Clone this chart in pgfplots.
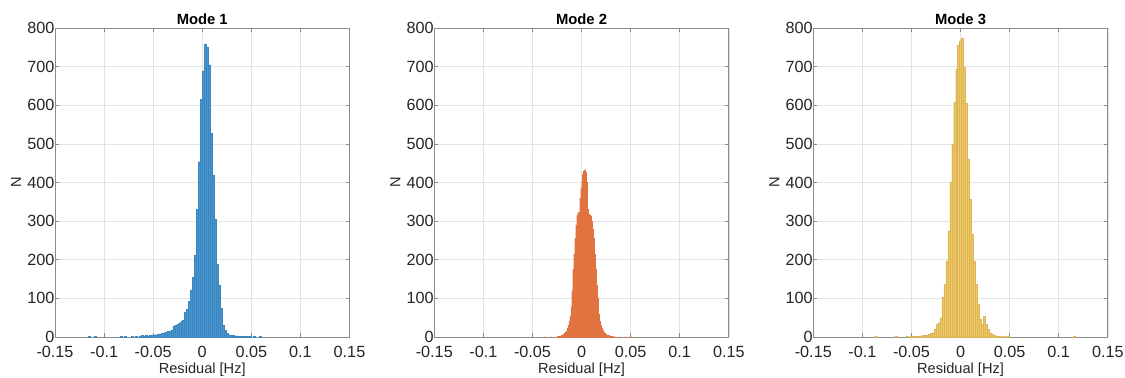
\documentclass[border=0pt]{standalone}
\usepackage{pgfplots}
\pgfplotsset{compat=1.18}
\usepackage{pgfplotstable}
\usepackage{fontspec}
\setmainfont{Liberation Sans}
\definecolor{mblue}{HTML}{4597D3}
\definecolor{morange}{HTML}{E0733F}
\definecolor{myellow}{HTML}{F2C862}
\definecolor{txt}{HTML}{262626}
\definecolor{boxc}{HTML}{8C8C8C}

\pgfplotstableread{
x y
-0.115 2
-0.109 1
-0.083 2
-0.079 1
-0.071 2
-0.067 2
-0.063 3
-0.061 4
-0.059 3
-0.057 4
-0.055 3
-0.053 5
-0.051 5
-0.049 6
-0.047 6
-0.045 7
-0.043 8
-0.041 10
-0.039 11
-0.037 13
-0.035 14
-0.033 16
-0.031 18
-0.029 29
-0.027 31
-0.025 33
-0.023 37
-0.021 40
-0.019 44
-0.017 65
-0.015 72
-0.013 92
-0.011 122
-0.009 154
-0.007 212
-0.005 331
-0.003 454
-0.001 616
0.001 689
0.003 757
0.005 751
0.007 705
0.009 528
0.011 420
0.013 306
0.015 189
0.017 135
0.019 74
0.021 31
0.023 18
0.025 10
0.027 6
0.029 5
0.031 4
0.033 3
0.035 3
0.037 2
0.039 2
0.041 3
0.043 2
0.045 1
0.047 2
0.049 1
0.053 1
0.059 1
}\modeone

\pgfplotstableread{
x y
-0.0365 1
-0.0305 1
-0.0245 2
-0.0225 3
-0.0205 4
-0.0195 5
-0.0185 7
-0.0175 9
-0.0165 12
-0.0155 16
-0.0145 22
-0.0135 30
-0.0125 42
-0.0115 55
-0.0105 78
-0.0095 120
-0.0085 175
-0.0075 215
-0.0065 255
-0.0055 290
-0.0045 315
-0.0035 322
-0.0025 323
-0.0015 360
-0.0005 385
0.0005 405
0.0015 422
0.0025 430
0.0035 433
0.0045 428
0.0055 400
0.0065 330
0.0075 318
0.0085 316
0.0095 314
0.0105 300
0.0115 280
0.0125 255
0.0135 215
0.0145 175
0.0155 135
0.0165 100
0.0175 60
0.0185 42
0.0195 30
0.0205 23
0.0215 18
0.0225 13
0.0235 10
0.0245 8
0.0255 6
0.0265 5
0.0275 4
0.0295 3
0.0315 2
0.0345 1
0.0385 1
0.0445 1
0.0505 1
}\modetwo

\pgfplotstableread{
x y
-0.086 1
-0.066 2
-0.054 1
-0.050 2
-0.048 1
-0.046 2
-0.044 2
-0.042 2
-0.040 3
-0.038 4
-0.036 4
-0.034 5
-0.032 7
-0.030 9
-0.028 11
-0.026 20
-0.024 33
-0.022 37
-0.020 50
-0.018 102
-0.016 137
-0.014 197
-0.012 275
-0.010 400
-0.008 500
-0.006 608
-0.004 694
-0.002 755
0.000 767
0.002 774
0.004 698
0.006 605
0.008 461
0.010 357
0.012 266
0.014 197
0.016 137
0.018 85
0.020 46
0.022 33
0.024 54
0.026 33
0.028 20
0.030 11
0.032 7
0.034 5
0.036 3
0.038 3
0.040 2
0.044 1
0.048 1
0.116 2
}\modethree

\pgfplotsset{
  modeaxis/.style={
    scale only axis,
    width=147.25pt, height=154.5pt,
    anchor=south west,
    xmin=-0.15, xmax=0.15, ymin=0, ymax=800,
    xtick={-0.15,-0.1,-0.05,0,0.05,0.1,0.15},
    ytick={0,100,200,300,400,500,600,700,800},
    scaled ticks=false,
    xticklabel style={/pgf/number format/fixed, /pgf/number format/precision=2,
      /pgf/number format/assume math mode=true, anchor=center, yshift=-7.6pt},
    yticklabel style={/pgf/number format/assume math mode=true, anchor=east, xshift=3.2pt},
    tick label style={font=\fontsize{8.1pt}{9pt}\selectfont, text=txt},
    label style={font=\fontsize{7.3pt}{8pt}\selectfont, text=txt},
    xlabel={Residual [Hz]},
    ylabel={N},
    xlabel style={at={(axis description cs:0.5,-0.107)}, anchor=center},
    ylabel style={at={(axis description cs:-0.132,0.5)}, anchor=center, rotate=0},
    axis line style={boxc, line width=0.35pt},
    tick style={boxc, line width=0.35pt},
    tick align=inside,
    major tick length=2pt,
    xtick pos=both, ytick pos=both,
    grid=major,
    major grid style={black!11, line width=0.3pt},
    clip=false,
  },
  histbar/.style={ybar, bar width=0.002, line width=0.12pt},
}
\newcommand{\modetitle}[1]{\node[font=\fontsize{7.4pt}{8pt}\selectfont\bfseries, text=black, anchor=center] at (rel axis cs:0.5,1.03) {#1};}

\begin{document}
\begin{tikzpicture}
\begin{axis}[modeaxis, at={(27.5pt,20.5pt)}]
\addplot[histbar, fill=mblue, draw=mblue!88!black] table[x=x,y=y] {\modeone};
\modetitle{Mode 1}
\end{axis}
\begin{axis}[modeaxis, at={(217.15pt,20.5pt)}]
\addplot[ybar, bar width=0.001, line width=0.05pt, fill=morange, draw=morange] table[x=x,y=y] {\modetwo};
\modetitle{Mode 2}
\end{axis}
\begin{axis}[modeaxis, at={(406.65pt,20.5pt)}]
\addplot[histbar, fill=myellow, draw=myellow!90!black] table[x=x,y=y] {\modethree};
\modetitle{Mode 3}
\end{axis}
\pgfresetboundingbox
\path (0,0) rectangle (562.5pt,189pt);
\end{tikzpicture}
\end{document}
